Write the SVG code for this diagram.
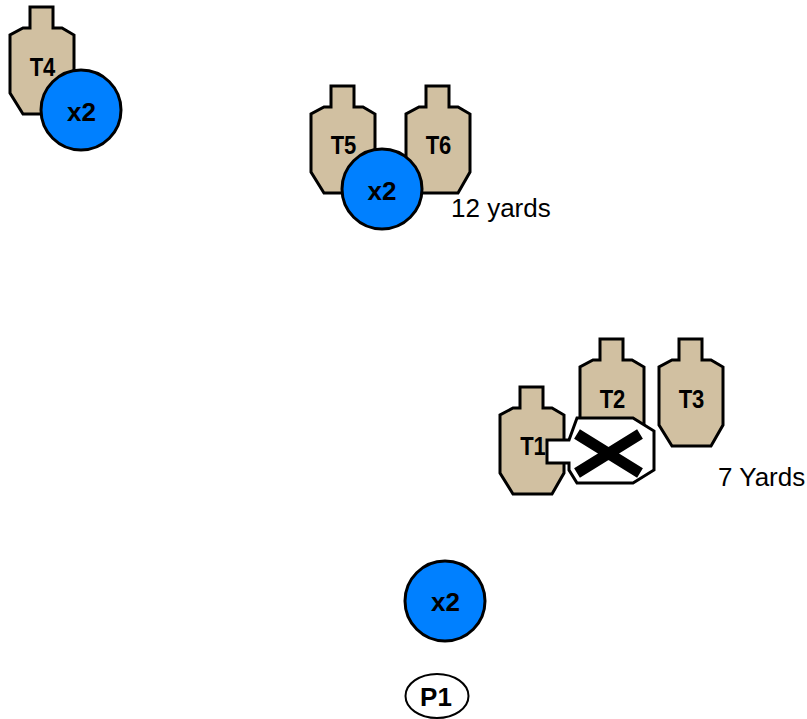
<svg xmlns="http://www.w3.org/2000/svg" width="807" height="719" viewBox="0 0 807 719">
<style>
.t{fill:#d1c0a1;stroke:#000;stroke-width:3;stroke-linejoin:miter}
.c{fill:#0080ff;stroke:#000;stroke-width:3}
.l{font-family:"Liberation Sans",Arial,sans-serif;font-weight:bold;font-size:26px;text-anchor:middle;fill:#000}
.g{font-size:25px}
.n{font-family:"Liberation Sans",Arial,sans-serif;font-size:26px;fill:#000}
</style>
<defs>
<path id="target" class="t" d="M0,0H23V21H32L44,28V86L32,107H-7L-20,86V28L-7,21H0Z"/>
</defs>
<g id="T4"><use href="#target" x="30" y="7"/><text class="l g" transform="translate(42.500 76) scale(.88 1)">T4</text></g>
<g id="T5"><use href="#target" x="331" y="86"/><text class="l g" transform="translate(343.500 154) scale(.88 1)">T5</text></g>
<g id="T6"><use href="#target" x="426" y="86"/><text class="l g" transform="translate(438.500 154) scale(.88 1)">T6</text></g>
<g id="T2"><use href="#target" x="600" y="339"/><text class="l g" transform="translate(612.500 408) scale(.88 1)">T2</text></g>
<g id="T3"><use href="#target" x="679" y="339"/><text class="l g" transform="translate(691.500 408) scale(.88 1)">T3</text></g>
<g id="T1"><use href="#target" x="520" y="387"/><text class="l g" transform="translate(533 455) scale(.88 1)">T1</text></g>
<g id="noshoot">
<path d="M547,440H569L577,418H633L654,431V470L633,483H577L569,470V463H547Z" fill="#fff" stroke="#000" stroke-width="3"/>
<path d="M577,434L640,473M577,473L640,434" fill="none" stroke="#000" stroke-width="11"/>
</g>
<g id="c1"><circle class="c" cx="81" cy="110" r="40"/><text class="l" x="81.500" y="121">x2</text></g>
<g id="c2"><circle class="c" cx="382" cy="189" r="40"/><text class="l" x="382" y="200">x2</text></g>
<g id="c3"><circle class="c" cx="445" cy="601" r="40"/><text class="l" x="445.500" y="611">x2</text></g>
<g id="P1"><ellipse cx="437" cy="696" rx="31.500" ry="22" fill="#fff" stroke="#000" stroke-width="2"/><text class="l" x="436" y="706">P1</text></g>
<g id="labels">
<text class="n" x="451" y="217">12 yards</text>
<text class="n" x="718" y="486">7 Yards</text>
</g>
</svg>
